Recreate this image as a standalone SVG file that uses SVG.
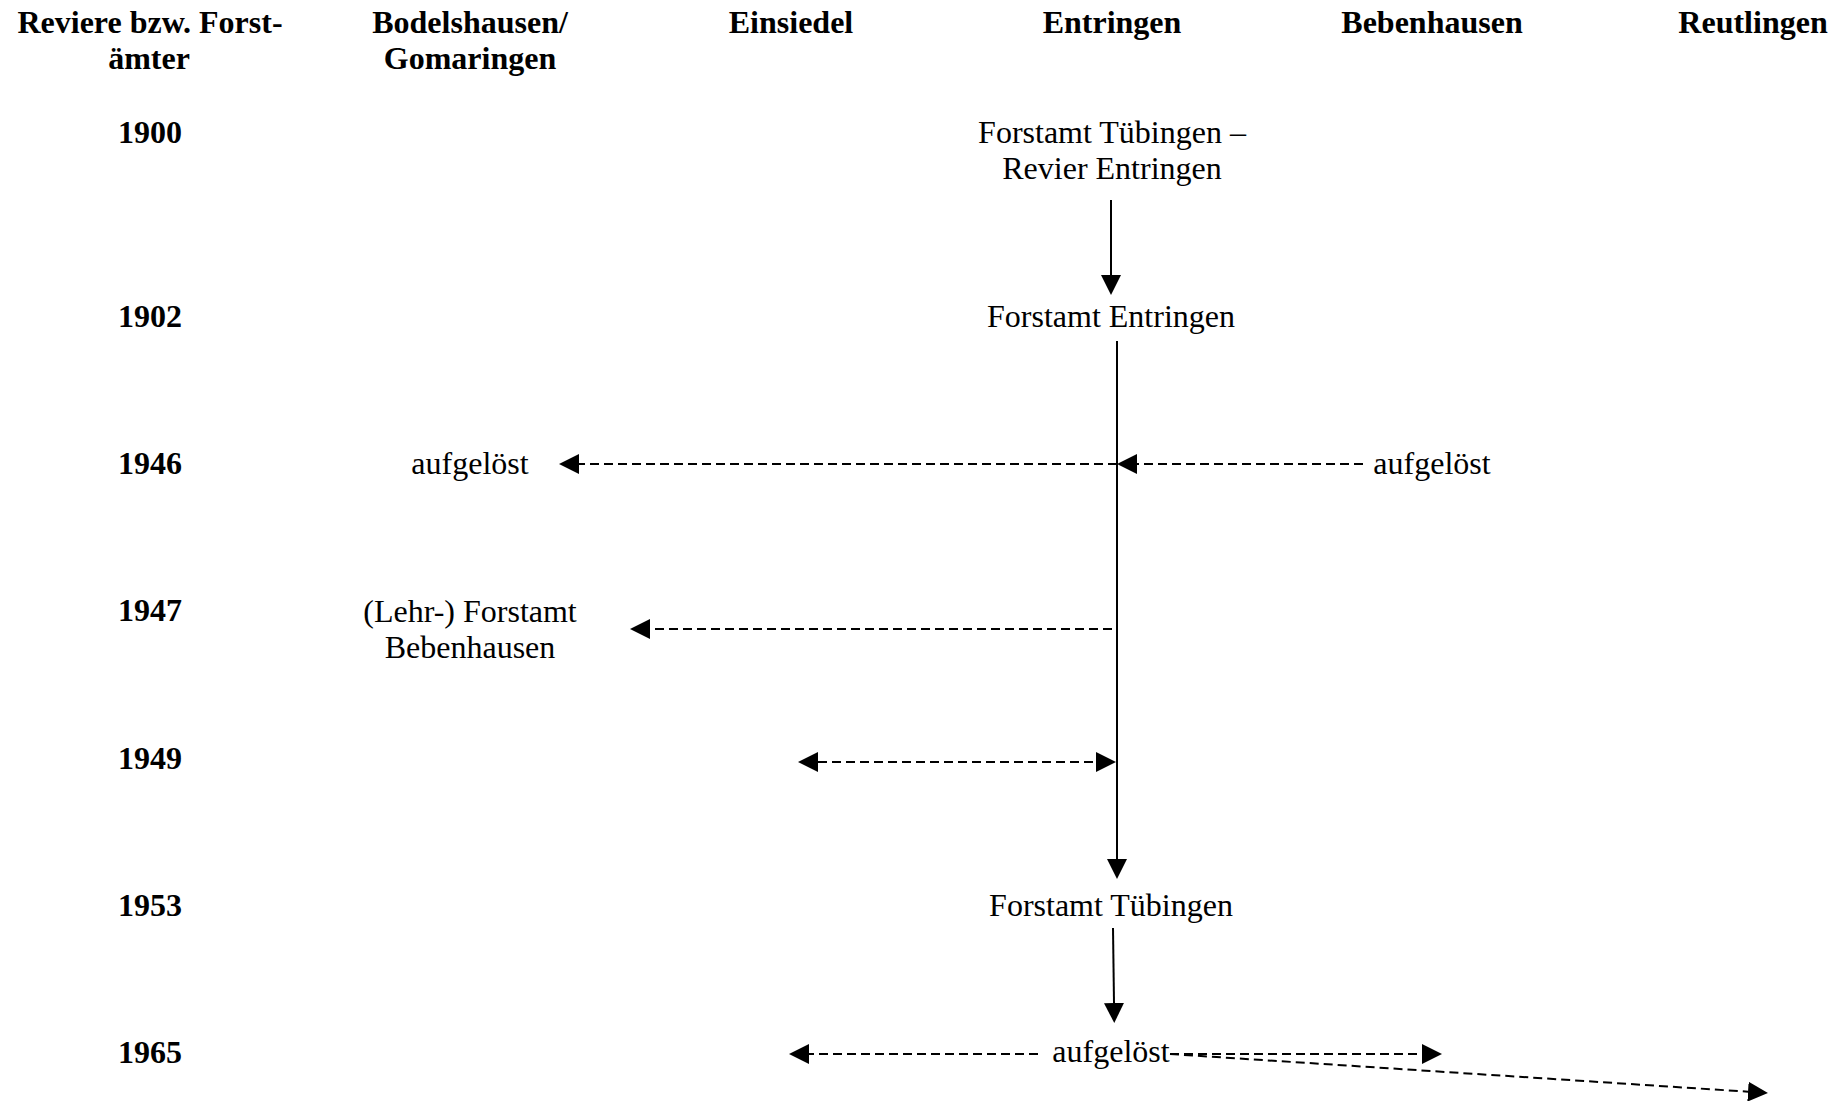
<svg xmlns="http://www.w3.org/2000/svg" width="1843" height="1101" viewBox="0 0 1843 1101">
  <style>
    .hd { font-family: "Liberation Serif", "Times New Roman", serif; font-size: 32px; font-weight: bold; text-anchor: middle; fill: #000; }
    .tx { font-family: "Liberation Serif", "Times New Roman", serif; font-size: 32px; text-anchor: middle; fill: #000; }
    .solid { stroke: #000; stroke-width: 2; fill: none; }
    .dash { stroke: #000; stroke-width: 2; fill: none; stroke-dasharray: 9 5; }
  </style>
  <defs>
    <marker id="ah" viewBox="0 0 20 20" refX="0" refY="10" markerWidth="20" markerHeight="20" markerUnits="userSpaceOnUse" orient="auto-start-reverse">
      <path d="M0,0 L20,10 L0,20 z" fill="#000"/>
    </marker>
  </defs>
  <rect width="1843" height="1101" fill="#fff"/>

  <g id="headers">
    <text class="hd" x="150" y="33">Reviere bzw. Forst-</text>
    <text class="hd" x="149" y="69">ämter</text>
    <text class="hd" x="470" y="33">Bodelshausen/</text>
    <text class="hd" x="470" y="69">Gomaringen</text>
    <text class="hd" x="791" y="33">Einsiedel</text>
    <text class="hd" x="1112" y="33">Entringen</text>
    <text class="hd" x="1432" y="33">Bebenhausen</text>
    <text class="hd" x="1753" y="33">Reutlingen</text>
  </g>

  <g id="years">
    <text class="hd" x="150" y="143">1900</text>
    <text class="hd" x="150" y="327">1902</text>
    <text class="hd" x="150" y="474">1946</text>
    <text class="hd" x="150" y="621">1947</text>
    <text class="hd" x="150" y="769">1949</text>
    <text class="hd" x="150" y="916">1953</text>
    <text class="hd" x="150" y="1063">1965</text>
  </g>

  <g id="node-1900">
    <text class="tx" x="1112" y="143">Forstamt Tübingen –</text>
    <text class="tx" x="1112" y="179">Revier Entringen</text>
  </g>
  <g id="node-1902">
    <text class="tx" x="1111" y="327">Forstamt Entringen</text>
  </g>
  <g id="node-1946-left">
    <text class="tx" x="470" y="474">aufgelöst</text>
  </g>
  <g id="node-1946-right">
    <text class="tx" x="1432" y="474">aufgelöst</text>
  </g>
  <g id="node-1947">
    <text class="tx" x="470" y="622">(Lehr-) Forstamt</text>
    <text class="tx" x="470" y="658">Bebenhausen</text>
  </g>
  <g id="node-1953">
    <text class="tx" x="1111" y="916">Forstamt Tübingen</text>
  </g>
  <g id="node-1965">
    <text class="tx" x="1111" y="1062">aufgelöst</text>
  </g>

  <g id="connectors">
    <line class="solid" x1="1111" y1="200" x2="1111" y2="275" marker-end="url(#ah)"/>
    <line class="solid" x1="1117" y1="341" x2="1117" y2="859" marker-end="url(#ah)"/>
    <line class="dash" x1="1117" y1="464" x2="579" y2="464" marker-end="url(#ah)"/>
    <line class="dash" x1="1363" y1="464" x2="1137" y2="464" marker-end="url(#ah)"/>
    <line class="dash" x1="1112" y1="629" x2="650" y2="629" marker-end="url(#ah)"/>
    <line class="dash" x1="818" y1="762" x2="1096" y2="762" marker-start="url(#ah)" marker-end="url(#ah)"/>
    <line class="solid" x1="1113" y1="928" x2="1114" y2="1003" marker-end="url(#ah)"/>
    <line class="dash" x1="1038" y1="1054" x2="809" y2="1054" marker-end="url(#ah)"/>
    <line class="dash" x1="1170" y1="1054" x2="1422" y2="1054" marker-end="url(#ah)"/>
    <line class="dash" x1="1170" y1="1054" x2="1748" y2="1091.7" marker-end="url(#ah)"/>
  </g>
</svg>
